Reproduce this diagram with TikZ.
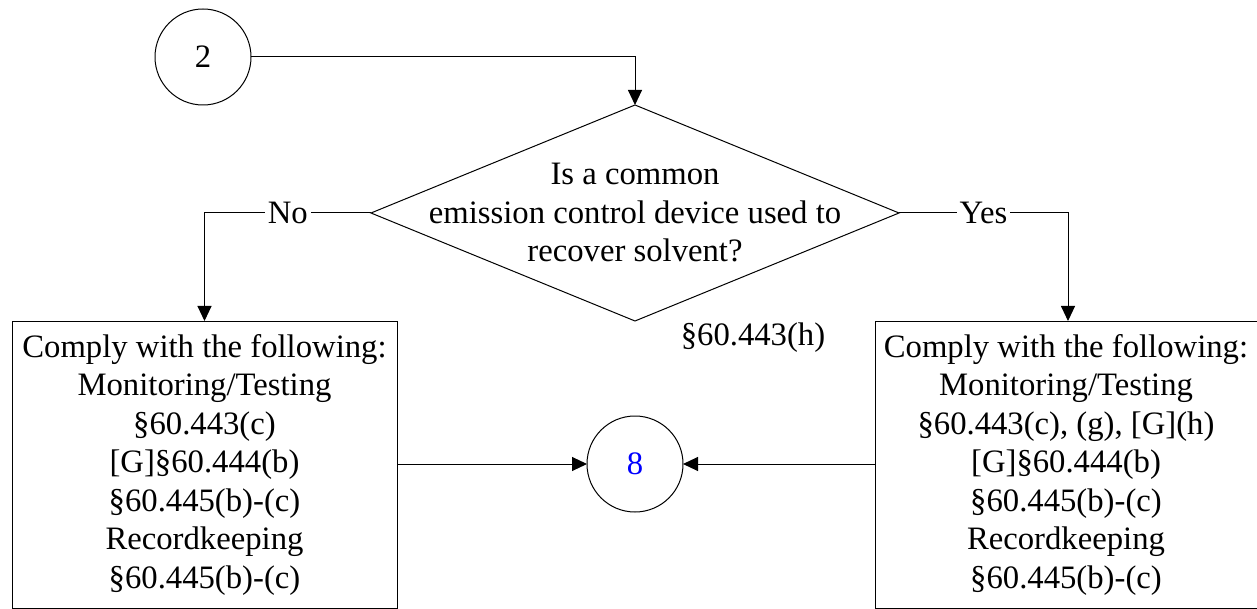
\documentclass[tikz,border=0pt]{standalone}
\usepackage{fontspec}
\setmainfont{Liberation Serif}
\usetikzlibrary{shapes.geometric,arrows.meta}
\begin{document}
\begin{tikzpicture}[x=1pt,y=-1pt,
  every node/.style={font=\fontsize{32.7}{38.5}\selectfont},
  conn/.style={line width=1pt,-{Triangle[length=15pt,width=14pt]}},
  plainline/.style={line width=1pt},
  circ/.style={draw,circle,line width=1pt,minimum size=96pt,inner sep=0pt,outer sep=0pt},
  cbox/.style={draw,line width=1pt,inner sep=0pt,outer sep=0pt},
  txt/.style={align=center,inner sep=0pt},
  lab/.style={fill=white,inner sep=3pt}]
\useasboundingbox (0,0) rectangle (1257,609);
% start connector circle
\node[circ] (c2) at (203,57) {2};
% decision
\node[draw,diamond,line width=1pt,minimum width=528pt,minimum height=216pt,inner sep=0pt,outer sep=0pt] (d) at (635,213) {};
\node[txt] (dq) at (d.center) {Is a common\\emission control device used to\\recover solvent?};
\node[txt] (ref) at (753,338) {§60.443(h)};
% boxes
\node[cbox,minimum width=385pt,minimum height=287pt] (lb) at (204.5,464.5) {};
\node[txt] (lbt) at (lb.center) {Comply with the following:\\Monitoring/Testing\\§60.443(c)\\{[G]}§60.444(b)\\§60.445(b)-(c)\\Recordkeeping\\§60.445(b)-(c)};
\node[cbox,minimum width=386pt,minimum height=287pt] (rb) at (1068,464.5) {};
\node[txt] (rbt) at (1066,464.5) {Comply with the following:\\Monitoring/Testing\\§60.443(c), (g), [G](h)\\{[G]}§60.444(b)\\§60.445(b)-(c)\\Recordkeeping\\§60.445(b)-(c)};
% end connector circle
\node[circ,text=blue] (c8) at (635,464) {8};
% connectors
\draw[conn] (c2.east) -| (d.north);
\draw[conn] (d.west) -| (lb.north) node[lab,pos=0.25] (no) {No};
\draw[conn] (d.east) -| (rb.north) node[lab,pos=0.25] (yes) {Yes};
\draw[conn] (lb.east |- c8.west) -- (c8.west);
\draw[conn] (rb.west |- c8.east) -- (c8.east);
\end{tikzpicture}
\end{document}
